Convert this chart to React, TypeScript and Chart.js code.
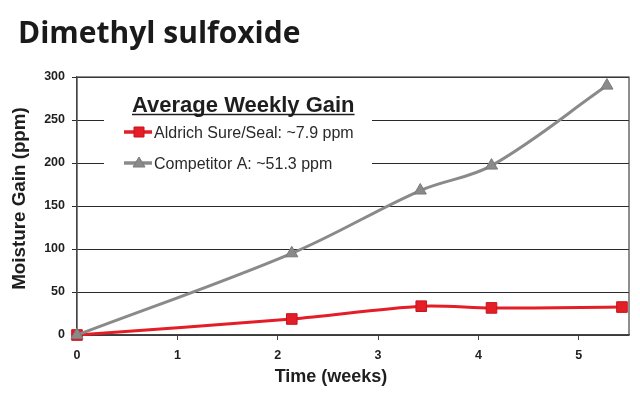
import React, { useEffect, useRef } from "react";
import { Chart, registerables } from "chart.js";

Chart.register(...registerables);

const chartTitle = "Dimethyl sulfoxide";
const legendTitle = "Average Weekly Gain";
const xAxisTitle = "Time (weeks)";
const yAxisTitle = "Moisture Gain (ppm)";

const aldrichLabel = "Aldrich Sure/Seal: ~7.9 ppm";
const aldrichWeeks = [0, 2.14, 3.43, 4.13, 5.43];
const aldrichGain = [0, 18.6, 33.5, 31.5, 32.5];

const competitorLabel = "Competitor A: ~51.3 ppm";
const competitorWeeks = [0, 2.14, 3.42, 4.13, 5.28];
const competitorGain = [0, 95, 168, 197, 290];

const xTickValues = [0, 1, 2, 3, 4, 5];
const yTickValues = [0, 50, 100, 150, 200, 250, 300];

const RED = "#e31e26";
const RED_EDGE = "#c8141c";
const GRAY = "#8a8a8a";
const GRAY_EDGE = "#7a7a7a";
const FONT = "'Liberation Sans', Arial, sans-serif";

const legendPlugin = {
  id: "insetLegend",
  beforeDatasetsDraw(chart: any) {
    const ctx = chart.ctx as CanvasRenderingContext2D;
    ctx.save();
    ctx.fillStyle = "#ffffff";
    ctx.fillRect(104, 86, 268, 102);

    // legend title
    ctx.font = `bold 22px ${FONT}`;
    ctx.fillStyle = "#1e1e1e";
    ctx.textBaseline = "alphabetic";
    ctx.textAlign = "left";
    ctx.fillText(legendTitle, 132, 112);
    const w = ctx.measureText(legendTitle).width;
    ctx.strokeStyle = "#1e1e1e";
    ctx.lineWidth = 1.7;
    ctx.beginPath();
    ctx.moveTo(132, 114.5);
    ctx.lineTo(132 + w, 114.5);
    ctx.stroke();

    const entries = [
      { label: aldrichLabel, color: RED, edge: RED_EDGE, style: "rect", y: 132 },
      { label: competitorLabel, color: GRAY, edge: GRAY_EDGE, style: "triangle", y: 163 },
    ];
    entries.forEach((e) => {
      ctx.strokeStyle = e.color;
      ctx.lineWidth = 3.5;
      ctx.beginPath();
      ctx.moveTo(124, e.y);
      ctx.lineTo(152, e.y);
      ctx.stroke();
      ctx.fillStyle = e.color;
      ctx.strokeStyle = e.edge;
      ctx.lineWidth = 1;
      ctx.beginPath();
      if (e.style === "rect") {
        ctx.rect(134, e.y - 5, 10, 10);
      } else {
        ctx.moveTo(139, e.y - 6);
        ctx.lineTo(145, e.y + 4);
        ctx.lineTo(133, e.y + 4);
        ctx.closePath();
      }
      ctx.fill();
      ctx.stroke();
      ctx.font = `16px ${FONT}`;
      ctx.fillStyle = "#2a2a2a";
      ctx.textBaseline = "middle";
      ctx.fillText(e.label, 154, e.y + 1.5);
    });
    ctx.restore();
  },
  afterDraw(chart: any) {
    const { left, top, right, bottom } = chart.chartArea;
    const ctx = chart.ctx as CanvasRenderingContext2D;
    ctx.save();
    // axis titles
    ctx.fillStyle = "#1e1e1e";
    ctx.textAlign = "center";
    ctx.textBaseline = "middle";
    ctx.font = `bold 18px ${FONT}`;
    ctx.fillText(xAxisTitle, 331, 377.5);
    ctx.translate(20, 198.5);
    ctx.rotate(-Math.PI / 2);
    ctx.font = `bold 18.8px ${FONT}`;
    ctx.fillText(yAxisTitle, 0, 0);
    ctx.restore();
  },
  beforeDatasetsDrawBorder: null,
};

const borderPlugin = {
  id: "plotBorder",
  beforeDatasetsDraw(chart: any) {
    const { left, top, right, bottom } = chart.chartArea;
    const ctx = chart.ctx as CanvasRenderingContext2D;
    ctx.save();
    ctx.strokeStyle = "#444444";
    ctx.lineWidth = 1.2;
    ctx.strokeRect(left, top, right - left, bottom - top);
    ctx.restore();
  },
};

export default function App() {
  const canvasRef = useRef<HTMLCanvasElement | null>(null);

  useEffect(() => {
    if (!canvasRef.current) return;
    const chart = new Chart(canvasRef.current, {
      type: "line",
      data: {
        datasets: [
          {
            label: competitorLabel,
            data: competitorWeeks.map((x, i) => ({ x, y: competitorGain[i] })),
            borderColor: GRAY,
            backgroundColor: GRAY,
            borderWidth: 3,
            tension: 0.35,
            pointStyle: "triangle",
            pointRadius: 7,
            pointBackgroundColor: GRAY,
            pointBorderColor: GRAY_EDGE,
            pointBorderWidth: 1,
            clip: false,
            order: 0,
          },
          {
            label: aldrichLabel,
            data: aldrichWeeks.map((x, i) => ({ x, y: aldrichGain[i] })),
            borderColor: RED,
            backgroundColor: RED,
            borderWidth: 3,
            tension: 0.3,
            pointStyle: "rect",
            pointRadius: 7.5,
            pointBackgroundColor: RED,
            pointBorderColor: RED_EDGE,
            pointBorderWidth: 1,
            clip: false,
            order: 1,
          },
        ],
      },
      options: {
        responsive: false,
        animation: false,
        layout: { padding: { top: 77, right: 11, left: 0, bottom: 0 } },
        plugins: {
          legend: { display: false },
          tooltip: { enabled: false },
          title: { display: false },
        },
        scales: {
          x: {
            type: "linear",
            min: 0,
            max: 5.5,
            afterBuildTicks: (scale: any) => {
              scale.ticks = xTickValues.map((v) => ({ value: v }));
            },
            afterFit: (scale: any) => {
              scale.height = 58;
            },
            grid: {
              drawOnChartArea: false,
              drawTicks: true,
              tickLength: 5,
              color: "#444444",
            },
            border: { display: true, color: "#444444", width: 1.2 },
            ticks: {
              padding: 8,
              color: "#1e1e1e",
              font: { family: FONT, size: 12.5, weight: "bold" },
              callback: (v: any) => String(v),
            },
            title: { display: false },
          },
          y: {
            type: "linear",
            min: 0,
            max: 300,
            afterBuildTicks: (scale: any) => {
              scale.ticks = yTickValues.map((v) => ({ value: v }));
            },
            afterFit: (scale: any) => {
              scale.width = 77;
            },
            grid: {
              drawTicks: true,
              tickLength: 5,
              color: "#2a2a2a",
              lineWidth: 1,
            },
            border: { display: true, color: "#444444", width: 1.2 },
            ticks: {
              padding: 7,
              color: "#1e1e1e",
              font: { family: FONT, size: 12.5, weight: "bold" },
            },
            title: { display: false },
          },
        },
      },
      plugins: [borderPlugin, legendPlugin],
    } as any);
    return () => chart.destroy();
  }, []);

  return (
    <div
      style={{
        position: "fixed",
        left: 0,
        top: 0,
        width: 640,
        height: 393,
        background: "#ffffff",
      }}
    >
      <div
        style={{
          position: "absolute",
          left: 18,
          top: 17,
          fontFamily: "'Open Sans', sans-serif",
          fontWeight: 700,
          fontSize: 30,
          lineHeight: 1,
          color: "#1a1a1a",
          whiteSpace: "nowrap",
        }}
      >
        {chartTitle}
      </div>
      <canvas ref={canvasRef} width={640} height={393} style={{ display: "block" }} />
    </div>
  );
}
